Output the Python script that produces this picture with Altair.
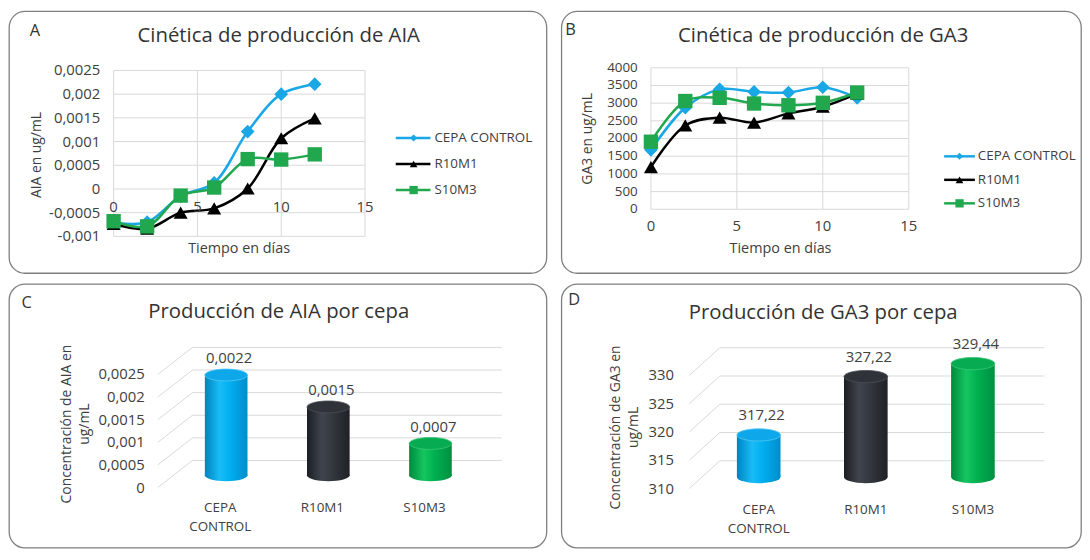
import altair as alt
import pandas as pd

# ---------------- data ----------------
days = [0, 2, 4, 6, 8, 10, 12]
series = ["CEPA CONTROL", "R10M1", "S10M3"]

aia_control = [-0.00071, -0.00070, -0.00015, 0.00013, 0.00121, 0.00200, 0.00221]
aia_r10m1 = [-0.00074, -0.00084, -0.00050, -0.00041, 0.00001, 0.00107, 0.00149]
aia_s10m3 = [-0.00068, -0.00079, -0.00014, 0.00003, 0.00063, 0.00062, 0.00073]

ga3_control = [1680, 2870, 3390, 3320, 3300, 3450, 3150]
ga3_r10m1 = [1190, 2370, 2590, 2450, 2710, 2900, 3270]
ga3_s10m3 = [1910, 3060, 3150, 2990, 2940, 3010, 3300]

bar_cats = ["CEPA CONTROL", "R10M1", "S10M3"]
bar_cat_labels = ["CEPA\nCONTROL", "R10M1", "S10M3"]
aia_means = [0.0022, 0.0015, 0.0007]
ga3_means = [317.22, 327.22, 329.44]

day_ticks = [0, 5, 10, 15]
aia_ticks = [-0.001, -0.0005, 0, 0.0005, 0.001, 0.0015, 0.002, 0.0025]
aia_tick_labels = ["-0,001", "-0,0005", "0", "0,0005", "0,001", "0,0015", "0,002", "0,0025"]
ga3_ticks = [0, 500, 1000, 1500, 2000, 2500, 3000, 3500, 4000]
aia_bar_ticks = [0, 0.0005, 0.001, 0.0015, 0.002, 0.0025]
aia_bar_tick_labels = ["0", "0,0005", "0,001", "0,0015", "0,002", "0,0025"]
ga3_bar_ticks = [310, 315, 320, 325, 330]

# ---------------- style ----------------
FONT = "Open Sans"
TXT = "#404040"
GRID = "#d9d9d9"
series_colors = ["#19a7e6", "#000000", "#21a84e"]
series_shapes = ["diamond", "triangle-up", "square"]
marker_sizes = [190, 210, 150]
legend_sizes = [50, 70, 45]
ELLIPSE = "M-1,0A1,0.28,0,1,1,1,0A1,0.28,0,1,1,-1,0Z"

cyl_stops = [
    ["#0082bf", "#19bcf6", "#00aef0", "#008dca"],
    ["#1b1e23", "#40454d", "#33373e", "#1e2126"],
    ["#008a3d", "#14c660", "#00b050", "#008f40"],
]
cyl_tops = ["#0ea8ea", "#2f3339", "#06ab52"]
cyl_edges = ["#52c8f5", "#4a4f57", "#3cc877"]


def grad(cols):
    offs = [0, 0.35, 0.6, 1]
    return alt.Gradient(
        gradient="linear",
        stops=[alt.GradientStop(color=c, offset=o) for c, o in zip(cols, offs)],
        x1=0, x2=1, y1=0, y2=0,
    )


def txt(text, x, y, size, angle=None, align="center", baseline="middle",
        color=TXT, line_height=None):
    kw = dict(fontSize=size, align=align, baseline=baseline, color=color, font=FONT)
    if angle is not None:
        kw["angle"] = angle
    if "\n" in text:
        kw["lineBreak"] = "\n"
        kw["lineHeight"] = line_height or size * 1.3
    return alt.Chart(pd.DataFrame({"t": [text]})).mark_text(**kw).encode(
        text="t:N", x=alt.value(x), y=alt.value(y))


def line_panel(letter, title, ytitle, vals, yticks, ylabels, ydom, g):
    xs = alt.Scale(domain=[0, 15], range=g["xr"], nice=False, zero=False)
    ys = alt.Scale(domain=ydom, range=g["yr"], nice=False, zero=False)
    cs = alt.Scale(domain=series, range=series_colors)
    ss = alt.Scale(domain=series, range=series_shapes)
    zs = alt.Scale(domain=series, range=marker_sizes)
    rows = []
    for s, v in zip(series, vals):
        for d, y in zip(days, v):
            rows.append({"day": d, "series": s, "val": y})
    df = pd.DataFrame(rows)

    hgrid = alt.Chart(pd.DataFrame({"v": yticks})).mark_rule(color=GRID, strokeWidth=1).encode(
        x=alt.XDatum(0, scale=xs, axis=None), x2=alt.X2Datum(15),
        y=alt.Y("v:Q", scale=ys, axis=None))
    vgrid = alt.Chart(pd.DataFrame({"d": day_ticks})).mark_rule(color=GRID, strokeWidth=1).encode(
        x=alt.X("d:Q", scale=xs, axis=None),
        y=alt.YDatum(ydom[0], scale=ys, axis=None), y2=alt.Y2Datum(ydom[1]))
    lines = alt.Chart(df).mark_line(interpolate="catmull-rom", strokeWidth=2.5).encode(
        x=alt.X("day:Q", scale=xs, axis=None),
        y=alt.Y("val:Q", scale=ys, axis=None),
        color=alt.Color("series:N", scale=cs, legend=None))
    pts = alt.Chart(df).mark_point(filled=True, opacity=1).encode(
        x=alt.X("day:Q", scale=xs, axis=None),
        y=alt.Y("val:Q", scale=ys, axis=None),
        color=alt.Color("series:N", scale=cs, legend=None),
        shape=alt.Shape("series:N", scale=ss, legend=None),
        size=alt.Size("series:N", scale=zs, legend=None))
    ylab = alt.Chart(pd.DataFrame({"v": yticks, "l": ylabels})).mark_text(
        align="right", baseline="middle", fontSize=g["tfs"], font=FONT, color=TXT).encode(
        x=alt.value(g["ylx"]), y=alt.Y("v:Q", scale=ys, axis=None), text="l:N")
    xlab = alt.Chart(pd.DataFrame({"d": day_ticks, "l": [str(d) for d in day_ticks]})).mark_text(
        align="center", baseline="middle", fontSize=15, font=FONT, color=TXT, dy=g["xldy"]).encode(
        x=alt.X("d:Q", scale=xs, axis=None),
        y=alt.YDatum(0, scale=ys, axis=None), text="l:N")

    ls = alt.Scale(type="point", domain=series, range=g["leg_rows"], padding=0)
    ldf = pd.DataFrame({"series": series})
    leg_rule = alt.Chart(ldf).mark_rule(strokeWidth=2.5).encode(
        x=alt.value(g["leg_x"][0]), x2=alt.value(g["leg_x"][1]),
        y=alt.Y("series:N", scale=ls, axis=None),
        color=alt.Color("series:N", scale=cs, legend=None))
    leg_pts = alt.Chart(ldf).mark_point(filled=True, opacity=1).encode(
        x=alt.value(g["leg_x"][2]),
        y=alt.Y("series:N", scale=ls, axis=None),
        color=alt.Color("series:N", scale=cs, legend=None),
        shape=alt.Shape("series:N", scale=ss, legend=None),
        size=alt.Size("series:N", scale=alt.Scale(domain=series, range=legend_sizes), legend=None))
    leg_txt = alt.Chart(ldf).mark_text(align="left", baseline="middle", fontSize=13.5,
                                       font=FONT, color=TXT).encode(
        x=alt.value(g["leg_x"][3]),
        y=alt.Y("series:N", scale=ls, axis=None), text="series:N")

    layers = [
        hgrid, vgrid, lines, pts, ylab, xlab, leg_rule, leg_pts, leg_txt,
        txt(title, g["title"][0], g["title"][1], 20.5, color="#333333"),
        txt(letter, g["letter"][0], g["letter"][1], 16.5, align="left", color="#333333"),
        txt("Tiempo en días", g["xt"][0], g["xt"][1], 14.5),
        txt(ytitle, g["yt"][0], g["yt"][1], 14, angle=270),
    ]
    return alt.layer(*layers).resolve_scale(
        x="independent", y="independent", color="independent",
        shape="independent", size="independent").properties(width=g["W"], height=g["H"])


def bar_panel(letter, title, ytitle, means, ticks, tick_labels, dom, g):
    fs = alt.Scale(domain=dom, range=g["fr"], nice=False, zero=False)
    bs = alt.Scale(domain=dom, range=g["br"], nice=False, zero=False)
    xs = alt.Scale(type="point", domain=bar_cats, range=g["bx"], padding=0)
    tdf = pd.DataFrame({"v": ticks, "l": tick_labels})
    back = alt.Chart(tdf).mark_rule(color=GRID, strokeWidth=1, yOffset=g["back"]).encode(
        x=alt.value(g["wall"][1]), x2=alt.value(g["wall"][2]),
        y=alt.Y("v:Q", scale=fs, axis=None))
    diag = alt.Chart(tdf).mark_rule(color=GRID, strokeWidth=1, y2Offset=g["back"]).encode(
        x=alt.value(g["wall"][0]), x2=alt.value(g["wall"][1]),
        y=alt.Y("v:Q", scale=fs, axis=None), y2=alt.Y2("v:Q"))
    ylab = alt.Chart(tdf).mark_text(align="right", baseline="middle", fontSize=15,
                                    font=FONT, color=TXT).encode(
        x=alt.value(g["ylx"]), y=alt.Y("v:Q", scale=fs, axis=None), text="l:N")
    layers = [back, diag, ylab]
    bw = g["bw"]
    for i, (cat, m) in enumerate(zip(bar_cats, means)):
        d = pd.DataFrame({"cat": [cat], "val": [m]})
        bottom = alt.Chart(d).mark_point(
            shape=ELLIPSE, size=bw * bw, filled=True, opacity=1, fill=grad(cyl_stops[i]),
            strokeWidth=0).encode(
            x=alt.X("cat:N", scale=xs, axis=None),
            y=alt.YDatum(dom[0], scale=bs, axis=None))
        body = alt.Chart(d).mark_bar(width=bw, fill=grad(cyl_stops[i])).encode(
            x=alt.X("cat:N", scale=xs, axis=None),
            y=alt.Y("val:Q", scale=bs, axis=None), y2=alt.Y2Datum(dom[0]))
        top = alt.Chart(d).mark_point(
            shape=ELLIPSE, size=bw * bw, filled=True, opacity=1, fill=cyl_tops[i],
            stroke=cyl_edges[i], strokeWidth=0.8).encode(
            x=alt.X("cat:N", scale=xs, axis=None),
            y=alt.Y("val:Q", scale=bs, axis=None))
        layers += [bottom, body, top]
    vdf = pd.DataFrame({"cat": bar_cats, "val": means,
                        "l": [str(m).replace(".", ",") for m in means]})
    vlab = alt.Chart(vdf).mark_text(align="center", baseline="middle", fontSize=15,
                                    font=FONT, color=TXT, dy=g["vdy"], dx=3).encode(
        x=alt.X("cat:N", scale=xs, axis=None),
        y=alt.Y("val:Q", scale=bs, axis=None), text="l:N")
    cdf = pd.DataFrame({"cat": bar_cats, "l": bar_cat_labels})
    clab = alt.Chart(cdf).mark_text(align="center", baseline="top", fontSize=13.5,
                                    font=FONT, color=TXT, lineBreak="\n",
                                    lineHeight=19, dx=g["cdx"]).encode(
        x=alt.X("cat:N", scale=xs, axis=None), y=alt.value(g["cy"]), text="l:N")
    layers += [
        vlab, clab,
        txt(title, g["title"][0], g["title"][1], 20.5, color="#333333"),
        txt(letter, g["letter"][0], g["letter"][1], 16.5, align="left", color="#333333"),
        txt(ytitle, g["yt"][0], g["yt"][1], 14, angle=270, line_height=18),
    ]
    return alt.layer(*layers).resolve_scale(
        x="independent", y="independent").properties(width=g["W"], height=g["H"])


gA = dict(W=542, H=264, xr=[105.5, 359], yr=[227, 59.7], ylx=92, xldy=18, tfs=15,
          xt=(232, 240), yt=(28, 145), title=(272, 25), letter=(21, 19.5),
          leg_x=[390, 425, 408, 429], leg_rows=[127.7, 180.3])
gB = dict(W=524, H=264, xr=[90.3, 350.3], yr=[199.7, 57], ylx=77, xldy=17.3, tfs=13.5,
          xt=(221, 240), yt=(27, 128.7), title=(264, 25), letter=(4, 18.5),
          leg_x=[386, 417, 401.5, 420], leg_rows=[146.3, 193.7])
gC = dict(W=542, H=266, fr=[205.3, 91.3], br=[193, 78], back=-27.3,
          wall=[150, 185, 497], ylx=137, bx=[219, 425], bw=43, vdy=-17, cy=219, cdx=-6,
          yt=(59, 141.3), title=(272, 28), letter=(12.7, 19.5))
gD = dict(W=524, H=266, fr=[206.3, 92.3], br=[194.7, 77], back=-28,
          wall=[129, 159.8, 487], ylx=113.6, bx=[199, 415], bw=44, vdy=-20, cy=221, cdx=0,
          yt=(55.5, 144.7), title=(264, 29.7), letter=(7, 16.5))

pA = line_panel("A", "Cinética de producción de AIA", "AIA en ug/mL",
                [aia_control, aia_r10m1, aia_s10m3], aia_ticks, aia_tick_labels,
                [-0.001, 0.0025], gA)
pB = line_panel("B", "Cinética de producción de GA3", "GA3 en ug/mL",
                [ga3_control, ga3_r10m1, ga3_s10m3], ga3_ticks, [str(t) for t in ga3_ticks],
                [0, 4000], gB)
pC = bar_panel("C", "Producción de AIA por cepa", "Concentración de AIA en\nug/mL",
               aia_means, aia_bar_ticks, aia_bar_tick_labels, [0, 0.0025], gC)
pD = bar_panel("D", "Producción de GA3 por cepa", "Concentración de GA3 en\nug/mL",
               ga3_means, ga3_bar_ticks, [str(t) for t in ga3_bar_ticks], [310, 330], gD)

chart = alt.vconcat(
    alt.hconcat(pA, pB, spacing=13),
    alt.hconcat(pC, pD, spacing=13),
    spacing=9,
).properties(padding=0, background="white").configure_view(
    stroke="#7f7f7f", strokeWidth=1.3, cornerRadius=16, fill="white")

chart.save("out.html", embed_options={"renderer": "svg", "actions": False})
